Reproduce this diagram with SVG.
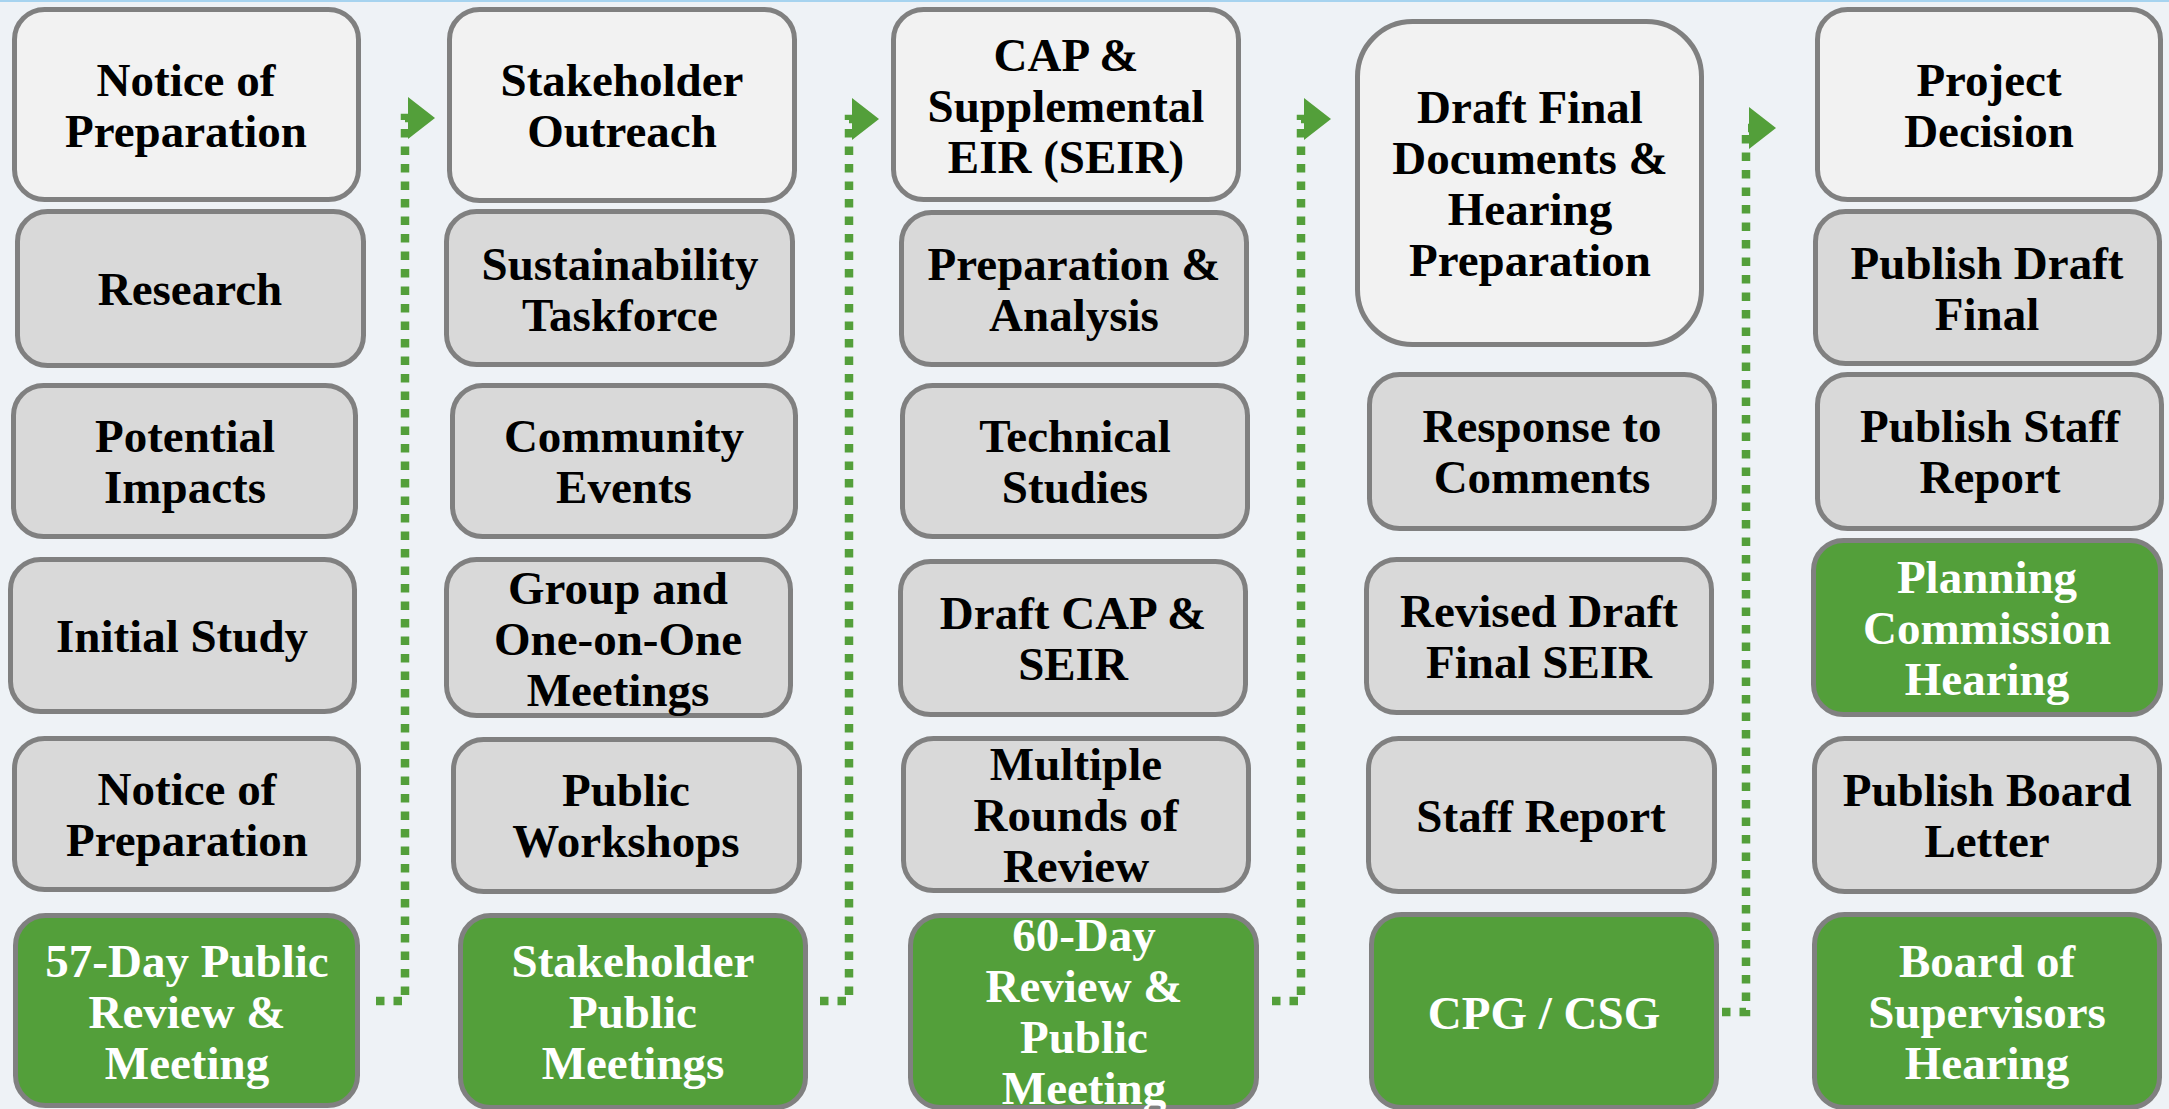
<svg xmlns="http://www.w3.org/2000/svg" width="2169" height="1109" viewBox="0 0 2169 1109">
<defs>
<style>
.box{stroke:#808080;stroke-width:5}
.light{fill:#F2F2F2}
.gray{fill:#D9D9D9}
.green{fill:#539F3A}
text{font-family:"Liberation Serif","Times New Roman",serif;font-weight:bold;font-size:47px;text-anchor:middle}
.dk{fill:#000000}
.wt{fill:#FFFFFF}
.conn{fill:none;stroke:#539F3A;stroke-width:8.5;stroke-dasharray:8.5 9}
</style>
<marker id="arr" markerUnits="userSpaceOnUse" viewBox="0 0 27 42" refX="0" refY="21" markerWidth="27" markerHeight="42" orient="auto">
<path d="M0,0 L27,21 L0,42 Z" fill="#539F3A"/>
</marker>
</defs>
<rect x="0" y="0" width="2169" height="1109" fill="#EEF2F6"/>
<rect x="0" y="0" width="2169" height="2" fill="#A6D3EF"/>

<g id="connectors">
<path class="conn" d="M376,1001 H405 V118 H408" marker-end="url(#arr)"/>
<path class="conn" d="M820,1001 H849 V119 H852" marker-end="url(#arr)"/>
<path class="conn" d="M1272,1001 H1301 V119 H1304" marker-end="url(#arr)"/>
<path class="conn" d="M1722,1012 H1746 V128 H1749" marker-end="url(#arr)"/>
</g>

<!-- Column 1 -->
<g id="c1-notice">
<rect class="box light" x="14.5" y="9.5" width="344" height="190" rx="30"/>
<text class="dk" x="186" y="96"><tspan x="186">Notice of</tspan><tspan x="186" dy="51">Preparation</tspan></text>
</g>
<g id="c1-research">
<rect class="box gray" x="17.5" y="211.5" width="346" height="154" rx="30"/>
<text class="dk" x="190" y="305">Research</text>
</g>
<g id="c1-impacts">
<rect class="box gray" x="13.5" y="385.5" width="342" height="151" rx="30"/>
<text class="dk" x="185" y="452"><tspan x="185">Potential</tspan><tspan x="185" dy="51">Impacts</tspan></text>
</g>
<g id="c1-initial">
<rect class="box gray" x="10.5" y="559.5" width="344" height="152" rx="30"/>
<text class="dk" x="182" y="652">Initial Study</text>
</g>
<g id="c1-notice2">
<rect class="box gray" x="14.5" y="738.5" width="344" height="151" rx="30"/>
<text class="dk" x="187" y="805"><tspan x="187">Notice of</tspan><tspan x="187" dy="51">Preparation</tspan></text>
</g>
<g id="c1-review">
<rect class="box green" x="15.5" y="915.5" width="342" height="190" rx="30"/>
<text class="wt" x="187" y="977"><tspan x="187">57-Day Public</tspan><tspan x="187" dy="51">Review &amp;</tspan><tspan x="187" dy="51">Meeting</tspan></text>
</g>

<!-- Column 2 -->
<g id="c2-outreach">
<rect class="box light" x="449.5" y="9.5" width="345" height="191" rx="30"/>
<text class="dk" x="622" y="96"><tspan x="622">Stakeholder</tspan><tspan x="622" dy="51">Outreach</tspan></text>
</g>
<g id="c2-taskforce">
<rect class="box gray" x="446.5" y="211.5" width="346" height="153" rx="30"/>
<text class="dk" x="620" y="280"><tspan x="620">Sustainability</tspan><tspan x="620" dy="51">Taskforce</tspan></text>
</g>
<g id="c2-events">
<rect class="box gray" x="452.5" y="385.5" width="343" height="151" rx="30"/>
<text class="dk" x="624" y="452"><tspan x="624">Community</tspan><tspan x="624" dy="51">Events</tspan></text>
</g>
<g id="c2-meetings">
<rect class="box gray" x="446.5" y="559.5" width="344" height="156" rx="30"/>
<text class="dk" x="618" y="604"><tspan x="618">Group and</tspan><tspan x="618" dy="51">One-on-One</tspan><tspan x="618" dy="51">Meetings</tspan></text>
</g>
<g id="c2-workshops">
<rect class="box gray" x="453.5" y="739.5" width="346" height="152" rx="30"/>
<text class="dk" x="626" y="806"><tspan x="626">Public</tspan><tspan x="626" dy="51">Workshops</tspan></text>
</g>
<g id="c2-public">
<rect class="box green" x="460.5" y="915.5" width="345" height="192" rx="30"/>
<text class="wt" x="633" y="977"><tspan x="633">Stakeholder</tspan><tspan x="633" dy="51">Public</tspan><tspan x="633" dy="51">Meetings</tspan></text>
</g>

<!-- Column 3 -->
<g id="c3-cap">
<rect class="box light" x="893.5" y="9.5" width="345" height="190" rx="30"/>
<text class="dk" x="1066" y="71"><tspan x="1066">CAP &amp;</tspan><tspan x="1066" dy="51">Supplemental</tspan><tspan x="1066" dy="51">EIR (SEIR)</tspan></text>
</g>
<g id="c3-analysis">
<rect class="box gray" x="901.5" y="212.5" width="345" height="152" rx="30"/>
<text class="dk" x="1074" y="280"><tspan x="1074">Preparation &amp;</tspan><tspan x="1074" dy="51">Analysis</tspan></text>
</g>
<g id="c3-studies">
<rect class="box gray" x="902.5" y="385.5" width="345" height="151" rx="30"/>
<text class="dk" x="1075" y="452"><tspan x="1075">Technical</tspan><tspan x="1075" dy="51">Studies</tspan></text>
</g>
<g id="c3-draft">
<rect class="box gray" x="900.5" y="561.5" width="345" height="153" rx="30"/>
<text class="dk" x="1073" y="629"><tspan x="1073">Draft CAP &amp;</tspan><tspan x="1073" dy="51">SEIR</tspan></text>
</g>
<g id="c3-rounds">
<rect class="box gray" x="903.5" y="738.5" width="345" height="152" rx="30"/>
<text class="dk" x="1076" y="780"><tspan x="1076">Multiple</tspan><tspan x="1076" dy="51">Rounds of</tspan><tspan x="1076" dy="51">Review</tspan></text>
</g>
<g id="c3-review">
<rect class="box green" x="910.5" y="915.5" width="346" height="192" rx="30"/>
<text class="wt" x="1084" y="951"><tspan x="1084">60-Day</tspan><tspan x="1084" dy="51">Review &amp;</tspan><tspan x="1084" dy="51">Public</tspan><tspan x="1084" dy="51">Meeting</tspan></text>
</g>

<!-- Column 4 -->
<g id="c4-final">
<rect class="box light" x="1357.5" y="21.5" width="344" height="323" rx="55"/>
<text class="dk" x="1530" y="123"><tspan x="1530">Draft Final</tspan><tspan x="1530" dy="51">Documents &amp;</tspan><tspan x="1530" dy="51">Hearing</tspan><tspan x="1530" dy="51">Preparation</tspan></text>
</g>
<g id="c4-response">
<rect class="box gray" x="1369.5" y="374.5" width="345" height="154" rx="30"/>
<text class="dk" x="1542" y="442"><tspan x="1542">Response to</tspan><tspan x="1542" dy="51">Comments</tspan></text>
</g>
<g id="c4-revised">
<rect class="box gray" x="1366.5" y="559.5" width="345" height="153" rx="30"/>
<text class="dk" x="1539" y="627"><tspan x="1539">Revised Draft</tspan><tspan x="1539" dy="51">Final SEIR</tspan></text>
</g>
<g id="c4-staff">
<rect class="box gray" x="1368.5" y="738.5" width="346" height="153" rx="30"/>
<text class="dk" x="1541" y="832">Staff Report</text>
</g>
<g id="c4-cpg">
<rect class="box green" x="1371.5" y="914.5" width="345" height="193" rx="30"/>
<text class="wt" x="1544" y="1029">CPG / CSG</text>
</g>

<!-- Column 5 -->
<g id="c5-decision">
<rect class="box light" x="1817.5" y="9.5" width="343" height="190" rx="30"/>
<text class="dk" x="1989" y="96"><tspan x="1989">Project</tspan><tspan x="1989" dy="51">Decision</tspan></text>
</g>
<g id="c5-draft">
<rect class="box gray" x="1815.5" y="211.5" width="344" height="152" rx="30"/>
<text class="dk" x="1987" y="279"><tspan x="1987">Publish Draft</tspan><tspan x="1987" dy="51">Final</tspan></text>
</g>
<g id="c5-staff">
<rect class="box gray" x="1817.5" y="374.5" width="344" height="154" rx="30"/>
<text class="dk" x="1990" y="442"><tspan x="1990">Publish Staff</tspan><tspan x="1990" dy="51">Report</tspan></text>
</g>
<g id="c5-planning">
<rect class="box green" x="1813.5" y="540.5" width="347" height="174" rx="30"/>
<text class="wt" x="1987" y="593"><tspan x="1987">Planning</tspan><tspan x="1987" dy="51">Commission</tspan><tspan x="1987" dy="51">Hearing</tspan></text>
</g>
<g id="c5-letter">
<rect class="box gray" x="1814.5" y="738.5" width="345" height="153" rx="30"/>
<text class="dk" x="1987" y="806"><tspan x="1987">Publish Board</tspan><tspan x="1987" dy="51">Letter</tspan></text>
</g>
<g id="c5-board">
<rect class="box green" x="1814.5" y="914.5" width="345" height="193" rx="30"/>
<text class="wt" x="1987" y="977"><tspan x="1987">Board of</tspan><tspan x="1987" dy="51">Supervisors</tspan><tspan x="1987" dy="51">Hearing</tspan></text>
</g>
</svg>
